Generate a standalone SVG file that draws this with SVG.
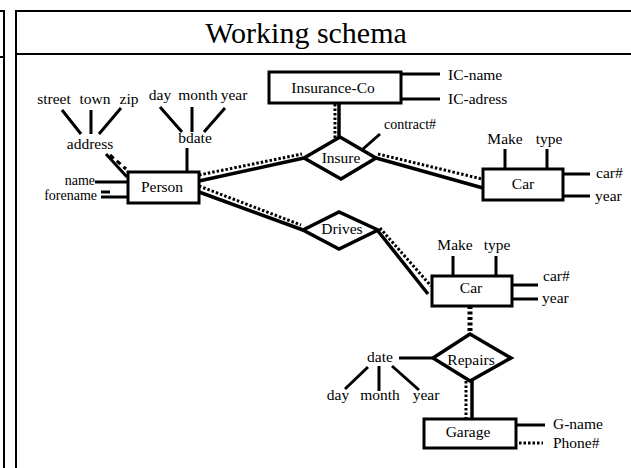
<svg xmlns="http://www.w3.org/2000/svg" width="631" height="468" viewBox="0 0 631 468">
<style>
text{font-family:"Liberation Serif","Times New Roman",serif;font-size:15.5px;fill:#000}
.t{font-size:30px}
.sm{font-size:14px}
.frame{fill:none;stroke:#000;stroke-width:2}
.ent{fill:#fff;stroke:#000;stroke-width:3}
.rel{fill:#fff;stroke:#000;stroke-width:3.5;stroke-linejoin:miter}
.s{stroke:#000;stroke-width:3.5;fill:none}
.a{stroke:#000;stroke-width:3;fill:none}
.d{stroke:#000;stroke-width:3;fill:none;stroke-dasharray:2.5 2}
.m{text-anchor:middle}
.e{text-anchor:end}
</style>
<g id="frame">
<path class="frame" d="M0 11H4V468M0 57H4"/>
<path class="frame" d="M631 11H16V468M16 54H631"/>
<text class="t m" x="306" y="43">Working schema</text>
</g>
<g id="connectors">
<path class="d" d="M199 175L302 154"/>
<path class="s" d="M199 181L304 158"/>
<path class="d" d="M199 186L301 225"/>
<path class="s" d="M199 192L303 230"/>
<path class="d" d="M378 154L482 179"/>
<path class="s" d="M376 158L483 188"/>
<path class="d" d="M335 104V138"/>
<path class="s" d="M339 104V137"/>
<path class="d" d="M380 228L431 286"/>
<path class="s" d="M378 231L428 294"/>
<path d="M470 306V334" stroke="#000" stroke-width="5" stroke-dasharray="3 2.5"/>
<path class="d" d="M466 381V419"/>
<path class="s" d="M472 381V419"/>
<path class="a" d="M401 74H440M401 99H440"/>
<path class="a" d="M363 149L380 134"/>
<path class="a" d="M505 149V169M547 149V169M563 174H590M563 196H590"/>
<path class="a" d="M453 256V276M496 256V276M512 285H538M512 299H538"/>
<path class="a" d="M95 182H128M101 197H128"/>
<path class="a" d="M101 192H110"/>
<path class="a" d="M106 154L127 177"/>
<path class="a" d="M110 155L126 169" stroke-dasharray="5 4"/>
<path class="a" d="M62 110L81 134M91 110V134M121 108L99 134"/>
<path class="a" d="M187 148V171"/>
<path class="a" d="M160 107L182 132M192 107V132M225 108L204 132"/>
<path class="a" d="M399 358H433"/>
<path class="a" d="M368 367L345 389M379 366V391M392 366L419 390"/>
<path class="a" d="M516 425H545"/>
<path class="d" d="M519 443H543"/>
</g>
<g id="person">
<rect class="ent" x="128" y="172" width="71" height="31"/>
<text class="m" x="162" y="192">Person</text>
</g>
<g id="insurance-co">
<rect class="ent" x="269" y="72" width="132" height="31"/>
<text class="m" x="333" y="93">Insurance-Co</text>
</g>
<g id="insure">
<polygon class="rel" points="304,158 340,137 376,158 341,179"/>
<text class="m" x="341" y="163">Insure</text>
</g>
<g id="car1">
<rect class="ent" x="483" y="169" width="80" height="31"/>
<text class="m" x="523" y="189">Car</text>
</g>
<g id="drives">
<polygon class="rel" points="303,230 339,212 378,230 339,249"/>
<text class="m" x="342" y="234">Drives</text>
</g>
<g id="car2">
<rect class="ent" x="432" y="276" width="80" height="30"/>
<text class="m" x="471" y="293">Car</text>
</g>
<g id="repairs">
<polygon class="rel" points="433,358 470,334 511,358 470,381"/>
<text class="m" x="471" y="365">Repairs</text>
</g>
<g id="garage">
<rect class="ent" x="424" y="419" width="92" height="29"/>
<text class="m" x="468" y="437">Garage</text>
</g>
<g id="attributes">
<text class="m" x="54" y="104">street</text>
<text class="m" x="95" y="104">town</text>
<text class="m" x="129" y="104">zip</text>
<text class="m" x="90" y="149">address</text>
<text class="m" x="160" y="100">day</text>
<text class="m" x="198" y="100">month</text>
<text class="m" x="234" y="100">year</text>
<text class="m" x="195" y="143">bdate</text>
<text class="e sm" x="95" y="185">name</text>
<text class="e sm" x="97" y="200">forename</text>
<text x="448" y="80">IC-name</text>
<text x="448" y="104">IC-adress</text>
<text class="sm" x="384" y="129">contract#</text>
<text class="m" x="505" y="144">Make</text>
<text class="m" x="549" y="144">type</text>
<text x="596" y="178">car#</text>
<text x="595" y="201">year</text>
<text class="m" x="455" y="250">Make</text>
<text class="m" x="497" y="250">type</text>
<text x="543" y="281">car#</text>
<text x="542" y="303">year</text>
<text class="m" x="380" y="362">date</text>
<text class="m" x="338" y="400">day</text>
<text class="m" x="380" y="400">month</text>
<text class="m" x="426" y="400">year</text>
<text x="553" y="429">G-name</text>
<text x="553" y="448">Phone#</text>
</g>
</svg>
